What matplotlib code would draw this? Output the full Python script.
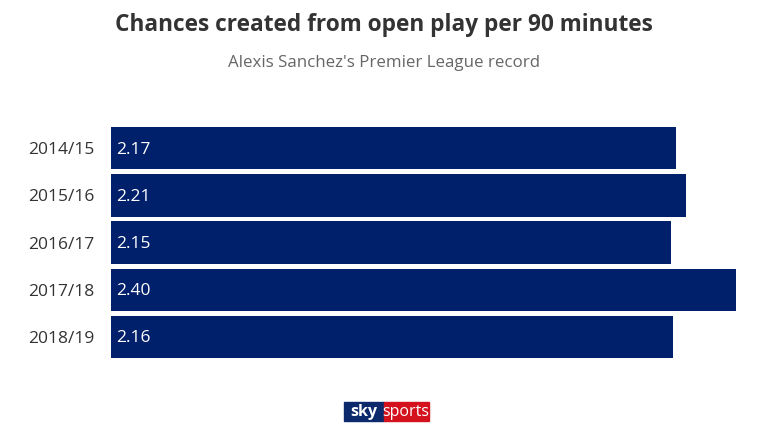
import matplotlib.pyplot as plt
from matplotlib.patches import Rectangle

seasons = ['2014/15', '2015/16', '2016/17', '2017/18', '2018/19']
chances = [2.17, 2.21, 2.15, 2.40, 2.16]

navy = '#01206b'

plt.rcParams['font.family'] = ['Open Sans', 'DejaVu Sans']

fig = plt.figure(figsize=(7.68, 4.32), dpi=100)
ax = fig.add_axes([0.1445, 0.171, 0.8135, 0.535])

ypos = list(range(len(seasons)))
ax.barh(ypos, chances, height=0.9, color=navy)
ax.set_ylim(len(seasons) - 0.55, -0.45)
ax.set_xlim(0, 2.40)

for y, v in zip(ypos, chances):
    ax.text(0.02, y + 0.03, f'{v:.2f}', color='white', fontsize=12.5, va='center', ha='left')

ax.set_yticks(ypos)
ax.set_yticklabels(seasons, fontsize=12.5, color='#333333')
ax.tick_params(axis='y', length=0, pad=12)
ax.set_xticks([])
for s in ax.spines.values():
    s.set_visible(False)

fig.text(0.5, 0.942, 'Chances created from open play per 90 minutes',
         ha='center', va='center', fontsize=16.3, fontweight='bold', color='#333333')
fig.text(0.5, 0.855, "Alexis Sanchez's Premier League record",
         ha='center', va='center', fontsize=12.2, color='#666666')

# sky sports logo
fig.patches.append(Rectangle((344 / 768, 1 - 421 / 432), 40 / 768, 19 / 432,
                             transform=fig.transFigure, color='#0c2a6b', figure=fig))
fig.patches.append(Rectangle((384 / 768, 1 - 421 / 432), 45 / 768, 19 / 432,
                             transform=fig.transFigure, color='#d4121d', figure=fig))
fig.text(364 / 768, 1 - 412 / 432, 'sky', ha='center', va='center', fontsize=11.5,
         fontweight='bold', color='white')
fig.text(406 / 768, 1 - 412.5 / 432, 'sports', ha='center', va='center', fontsize=11.5,
         color='white')

fig.savefig('out.png', dpi=100)
